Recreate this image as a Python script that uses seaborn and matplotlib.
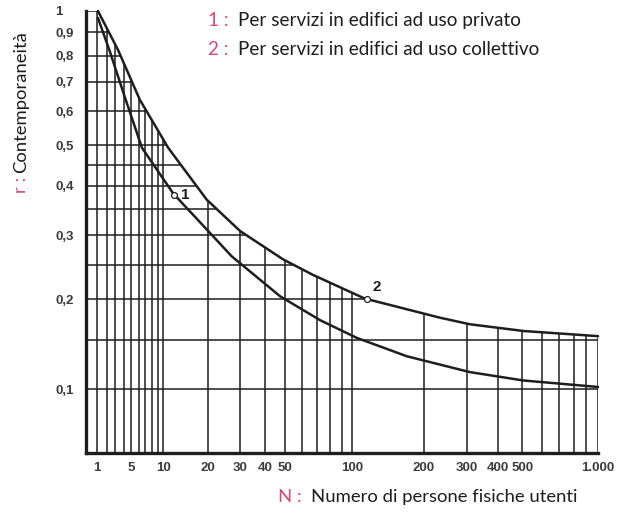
import numpy as np
import pandas as pd
import matplotlib
matplotlib.use('Agg')
import matplotlib.pyplot as plt
import seaborn as sns

# curva 2: edifici ad uso collettivo (curva superiore)
n_coll = [1.1, 3.3, 6.2, 10.9, 19.6, 30, 49, 67, 113, 233, 308, 505, 1000]
r_coll = [1.0, 0.823, 0.637, 0.494, 0.370, 0.308, 0.259, 0.235, 0.201, 0.176, 0.168, 0.160, 0.154]

# curva 1: edifici ad uso privato (curva inferiore)
n_priv = [1.1, 2.37, 4.17, 6.5, 11.9, 19.6, 27.1, 47.4, 72.3, 104.7, 170, 308, 505, 1000]
r_priv = [0.966, 0.815, 0.644, 0.494, 0.383, 0.311, 0.264, 0.204, 0.173, 0.152, 0.132, 0.116, 0.108, 0.102]

# punti evidenziati
pt_n = [12, 116]
pt_r = [0.38, 0.2]
pt_lab = ['1', '2']

# griglia del nomogramma
grid_n = [1, 2, 3, 4, 5, 6, 7, 8, 9, 10, 20, 30, 40, 50, 60, 70, 80, 90, 100,
          200, 300, 400, 500, 600, 700, 800, 900, 1000]
grid_r = [0.1, 0.15, 0.2, 0.25, 0.3, 0.35, 0.4, 0.45, 0.5, 0.6, 0.7, 0.8, 0.9, 1.0]

xticks = [1, 5, 10, 20, 30, 40, 50, 100, 200, 300, 400, 500, 1000]
xtick_labels = ['1', '5', '10', '20', '30', '40', '50', '100', '200', '300', '400', '500', '1.000']
yticks = [0.1, 0.2, 0.3, 0.4, 0.5, 0.6, 0.7, 0.8, 0.9, 1.0]
ytick_labels = ['0,1', '0,2', '0,3', '0,4', '0,5', '0,6', '0,7', '0,8', '0,9', '1']

PINK = '#d9487c'
INK = '#1e1e1e'


def fx(n):
    return np.log10(np.asarray(n, dtype=float) + 10)


def ix(v):
    return 10 ** np.asarray(v, dtype=float) - 10


def fy(r):
    return np.log10(np.asarray(r, dtype=float) + 0.1)


def iy(v):
    return 10 ** np.asarray(v, dtype=float) - 0.1


sns.set_style('white')
plt.rcParams['font.family'] = ['Lato', 'DejaVu Sans']

W, H = 617, 513
fig = plt.figure(figsize=(W / 100, H / 100), dpi=100)
ax = fig.add_axes([86.4 / W, 1 - 453 / H, (598 - 86.4) / W, (453 - 11) / H])
ax.set_xscale('function', functions=(fx, ix))
ax.set_yscale('function', functions=(fy, iy))
ax.set_xlim(0, 1000)
ax.set_ylim(0.05, 1.0)

# limiti della griglia: fino alla curva 2
cx = fx(n_coll)
cy = fy(r_coll)
for n in grid_n:
    top = iy(np.interp(fx(n), cx, cy))
    ax.vlines(n, 0.05, top, color=INK, lw=1.1, zorder=1)
for r in grid_r:
    if r <= min(r_coll):
        right = 1000
    else:
        right = ix(np.interp(fy(r), cy[::-1], cx[::-1]))
    ax.hlines(r, 0, right, color=INK, lw=1.1, zorder=1)

df = pd.concat([
    pd.DataFrame({'N': n_coll, 'r': r_coll, 'uso': 'collettivo'}),
    pd.DataFrame({'N': n_priv, 'r': r_priv, 'uso': 'privato'}),
])
sns.lineplot(data=df, x='N', y='r', units='uso', estimator=None, sort=False,
             color=INK, lw=1.8, ax=ax, legend=False, clip_on=False, zorder=3)
ax.set_xlabel('')
ax.set_ylabel('')

ax.scatter(pt_n, pt_r, s=18, facecolor='white', edgecolor=INK, lw=0.9, zorder=4)
offs = [(8, 0), (6.5, 8.5)]
for n, r, lab, o in zip(pt_n, pt_r, pt_lab, offs):
    ax.annotate(lab, (n, r), xytext=o, textcoords='offset points',
                ha='center', va='center', fontsize=11, fontweight='bold',
                family='Liberation Sans', color=INK)

for side in ['top', 'right']:
    ax.spines[side].set_visible(False)
for side in ['left', 'bottom']:
    ax.spines[side].set_linewidth(2.4)
    ax.spines[side].set_color(INK)

ax.set_xticks(xticks)
ax.set_xticklabels(xtick_labels)
ax.set_yticks(yticks)
ax.set_yticklabels(ytick_labels)
ax.minorticks_off()
ax.tick_params(axis='x', length=0, pad=6.5, labelsize=9.5, labelcolor='#3c3c3c')
ax.tick_params(axis='y', length=0, pad=22.5, labelsize=9.5, labelcolor='#3c3c3c')
for t in ax.get_xticklabels() + ax.get_yticklabels():
    t.set_family('Liberation Sans')
    t.set_fontweight('bold')
for t in ax.get_yticklabels():
    t.set_horizontalalignment('left')


def two_tone(x, y, key, rest, rot=0):
    # chiave rosa seguita dal testo nero
    if rot:
        k = fig.text(x / W, 1 - y / H, key, color=PINK, fontsize=fs,
                     rotation=90, ha='center', va='bottom')
        fig.canvas.draw()
        ax.annotate(rest, xy=(0.5, 1), xycoords=k, xytext=(0, 3),
                    textcoords='offset points', color=INK, fontsize=fs,
                    rotation=90, ha='center', va='bottom')
    else:
        k = fig.text(x / W, 1 - y / H, key, color=PINK, fontsize=fs, va='center')
        fig.canvas.draw()
        ax.annotate(rest, xy=(1, 0.5), xycoords=k, xytext=(6.5, 0),
                    textcoords='offset points', color=INK, fontsize=fs,
                    va='center')


fs = 13.6
two_tone(208, 20.7, '1 :', 'Per servizi in edifici ad uso privato')
two_tone(208, 49.3, '2 :', 'Per servizi in edifici ad uso collettivo')
fs = 13.3
two_tone(278, 497, 'N :', 'Numero di persone fisiche utenti')
two_tone(21, 193, 'r :', 'Contemporaneità', rot=1)

fig.savefig('out.png', dpi=100, facecolor='white')
